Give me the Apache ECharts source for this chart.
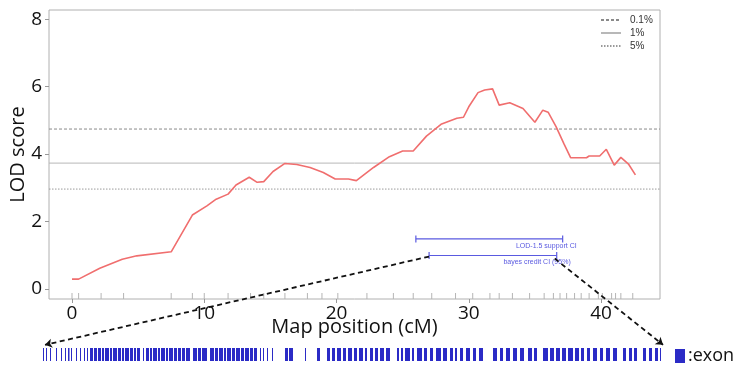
<!DOCTYPE html>
<html>
<head>
<meta charset="utf-8">
<script src="https://cdn.jsdelivr.net/npm/echarts@6/dist/echarts.min.js"></script>
<style>html,body{margin:0;padding:0;background:#fff}#c{width:738px;height:366px}</style>
</head>
<body>
<div id="c"></div>
<script>
// Map positions (cM) and LOD scores of the scan
const positionsCM = [0, 0.5, 2.1, 3.8, 4.9, 7.5, 9.1, 10.2, 10.9, 11.8, 12.4, 13.4, 14.0, 14.5, 15.2, 16.1, 17.0, 18.0, 19.0, 19.9, 20.9, 21.5, 22.8, 24.0, 25.0, 25.8, 26.8, 27.9, 29.1, 29.6, 30.0, 30.7, 31.2, 31.8, 32.3, 33.1, 34.1, 35.0, 35.6, 36.0, 36.6, 37.2, 37.7, 38.9, 39.1, 39.9, 40.4, 41.0, 41.5, 42.1, 42.6];
const lodScores = [0.29, 0.29, 0.61, 0.88, 0.98, 1.10, 2.19, 2.46, 2.66, 2.81, 3.08, 3.31, 3.16, 3.18, 3.48, 3.72, 3.69, 3.60, 3.45, 3.26, 3.26, 3.21, 3.60, 3.92, 4.09, 4.09, 4.53, 4.88, 5.06, 5.09, 5.40, 5.82, 5.90, 5.93, 5.45, 5.52, 5.35, 4.94, 5.30, 5.24, 4.81, 4.30, 3.89, 3.89, 3.94, 3.94, 4.14, 3.67, 3.90, 3.69, 3.38];
// Marker positions (rug)
const markerCM = [0, 0.5, 2.2, 3.9, 7.5, 9.1, 10.0, 11.8, 13.5, 14.5, 16.1, 17.8, 18.9, 20.1, 22.3, 24.3, 25.8, 27.2, 29.0, 30.3, 31.6, 32.3, 33.3, 34.6, 35.7, 36.4, 36.9, 37.4, 38.0, 38.5, 39.1, 39.8, 40.1, 40.8, 41.1, 41.5, 42.4];
// Significance thresholds
const thresholdNames = ['0.1%', '1%', '5%'];
const thresholdValues = [4.74, 3.73, 2.96];
// Confidence intervals [low, high, lod level]
const ciNames = ['LOD-1.5 support CI', 'bayes credit CI (95%)'];
const ciLow = [26.0, 27.0];
const ciHigh = [37.1, 36.65];
const ciLevel = [1.48, 0.99];
// Tick labels
const xTicks = [0, 10, 20, 30, 40];
const yTicks = [0, 2, 4, 6, 8];
// Exons along the gene (relative kb, 0..620)
const exonStart = [1,4,8,14,19,23,26,29,34,38,42,45,48,52,56,60,63,68,71,76,80,83,88,92,95,101,104,108,111,116,119,124,127,132,136,140,144,151,156,160,168,173,177,182,185,190,194,199,203,208,212,218,221,225,230,243,247,263,275,285,290,295,301,306,312,317,323,328,333,338,344,355,359,363,370,375,382,388,394,401,408,413,418,424,431,437,451,458,464,471,478,486,492,501,508,514,520,526,533,539,545,551,558,564,571,581,587,592,601,607,613,618];
const exonEnd   = [2,5,9,15,20,24,27.5,30,35,39,43,46,51,55,59,62,67,70,75,79,82,87,91,94,98,102,107,110,115,118,123,126,131,135,139,143,148,155,159,165,172,176,181,184,189,193,198,202,207,211,215,219,222,226,231,246,251,264,278,288,293,299,304,310,315,321,325,331,336,342,348,357,361,368,372,380,385,391,399,405,411,415,421,428,434,441,455,461,468,475,482,490,495,506,512,518,524,531,537,542,548,555,561,568,575,584,590,595,604,610,616,619];
// Arrow ends linking the credible interval to the gene track
const arrowFrom = [[27.0, 0.96], [36.5, 0.90]];
const arrowTo = [[-2.04, -1.66], [44.69, -1.66]];

const X_MIN = -1.74, X_MAX = 44.46, Y_MIN = -0.3, Y_MAX = 8.27;
const FONT = '"Open Sans", "Noto Sans", sans-serif';
const chart = echarts.init(document.getElementById('c'), null, {renderer: 'canvas'});

const thresholdStyles = [
  {type: [3, 2], color: '#8a8a8a'},
  {type: 'solid', color: '#b8b8b8'},
  {type: [1.5, 1.5], color: '#9a9a9a'}
];

const series = [];
thresholdNames.forEach((n, i) => {
  series.push({
    name: n, type: 'line', xAxisIndex: 0, yAxisIndex: 0, symbol: 'none', silent: true,
    data: [[X_MIN, thresholdValues[i]], [X_MAX, thresholdValues[i]]],
    lineStyle: {width: 1, type: thresholdStyles[i].type, color: thresholdStyles[i].color},
    itemStyle: {color: thresholdStyles[i].color},
    z: 1
  });
});
series.push({
  name: 'LOD', type: 'line', xAxisIndex: 0, yAxisIndex: 0, symbol: 'none',
  data: positionsCM.map((c, i) => [c, lodScores[i]]),
  lineStyle: {width: 1.6, color: '#f06e6e'}, z: 3
});
series.push({
  name: 'markers', type: 'custom', xAxisIndex: 0, yAxisIndex: 0,
  data: markerCM.map(m => [m]),
  renderItem: function (params, api) {
    const p = api.coord([api.value(0), Y_MIN]);
    return {type: 'line', shape: {x1: p[0], y1: p[1], x2: p[0], y2: p[1] - 6}, style: {stroke: '#b5b5b5', lineWidth: 1}};
  }, z: 2
});
series.push({
  name: 'CI', type: 'custom', xAxisIndex: 0, yAxisIndex: 0,
  data: ciNames.map((n, i) => [ciLow[i], ciHigh[i], ciLevel[i], n]),
  renderItem: function (params, api) {
    const a = api.coord([api.value(0), api.value(2)]);
    const b = api.coord([api.value(1), api.value(2)]);
    const col = '#5a5ae0';
    return {type: 'group', children: [
      {type: 'line', shape: {x1: a[0], y1: a[1], x2: b[0], y2: b[1]}, style: {stroke: col, lineWidth: 1.2}},
      {type: 'line', shape: {x1: a[0], y1: a[1] - 3.5, x2: a[0], y2: a[1] + 3.5}, style: {stroke: col, lineWidth: 1.2}},
      {type: 'line', shape: {x1: b[0], y1: b[1] - 3.5, x2: b[0], y2: b[1] + 3.5}, style: {stroke: col, lineWidth: 1.2}},
      {type: 'text', x: b[0] + 14, y: b[1] + 7, style: {text: api.value(3), fill: col, fontSize: 7, fontFamily: 'Liberation Sans, Arial', align: 'right', verticalAlign: 'middle'}}
    ]};
  }, z: 4
});
series.push({
  name: 'arrows', type: 'lines', coordinateSystem: 'cartesian2d', xAxisIndex: 0, yAxisIndex: 0,
  clip: false, silent: true,
  data: arrowFrom.map((f, i) => ({coords: [f, arrowTo[i]]})),
  symbol: ['none', 'arrow'], symbolSize: 7,
  lineStyle: {color: '#111', width: 1.8, type: [5, 3.5], opacity: 1, curveness: 0}, z: 5
});
series.push({
  name: 'exon', type: 'custom', xAxisIndex: 1, yAxisIndex: 1,
  data: exonStart.map((s, i) => [s, exonEnd[i]]),
  itemStyle: {color: '#2b2bc6'},
  renderItem: function (params, api) {
    const s = api.coord([api.value(0), 0]);
    const e = api.coord([api.value(1), 1]);
    return {type: 'rect', shape: {x: s[0], y: e[1], width: Math.max(e[0] - s[0], 1), height: s[1] - e[1]}, style: {fill: '#2b2bc6'}};
  }
});

chart.setOption({
  animation: false,
  grid: [
    {left: 49, top: 10, right: 78, bottom: 67, show: true, borderColor: '#b0b0b0', borderWidth: 1, containLabel: false, outerBoundsMode: 'none'},
    {left: 42, right: 76, top: 348, height: 13, show: false, outerBoundsMode: 'none'}
  ],
  xAxis: [
    {type: 'value', gridIndex: 0, min: X_MIN, max: X_MAX,
     name: 'Map position (cM)', nameLocation: 'middle', nameGap: 18, nameMoveOverlap: false,
     nameTextStyle: {fontSize: 20, fontFamily: FONT, color: '#111'},
     axisLine: {show: false, onZero: false},
     axisTick: {show: true, inside: false, length: 4, lineStyle: {color: '#999'}, customValues: xTicks},
     axisLabel: {fontSize: 19, fontFamily: FONT, color: '#111', margin: 5, customValues: xTicks},
     splitLine: {show: false}},
    {type: 'value', gridIndex: 1, min: 0, max: 620, show: false}
  ],
  yAxis: [
    {type: 'value', gridIndex: 0, min: Y_MIN, max: Y_MAX,
     name: 'LOD score', nameLocation: 'middle', nameGap: 21, nameRotate: 90, nameMoveOverlap: false,
     nameTextStyle: {fontSize: 20, fontFamily: FONT, color: '#111'},
     axisLine: {show: false, onZero: false},
     axisTick: {show: true, inside: false, length: 4, lineStyle: {color: '#999'}, customValues: yTicks},
     axisLabel: {fontSize: 19, fontFamily: FONT, color: '#111', margin: 7, customValues: yTicks},
     splitLine: {show: false}},
    {type: 'value', gridIndex: 1, min: 0, max: 1, show: false}
  ],
  legend: [
    {data: thresholdNames, orient: 'vertical', left: 600, top: 15, padding: 0, itemWidth: 20, itemHeight: 9, itemGap: 3,
     itemStyle: {opacity: 0},
     textStyle: {fontSize: 10, fontFamily: 'Liberation Sans, Arial', color: '#333', padding: [0, 0, 0, 4]}, selectedMode: false},
    {data: [{name: 'exon', icon: 'rect'}], left: 675, top: 347, padding: 0, itemWidth: 10, itemHeight: 14,
     formatter: ':exon', selectedMode: false,
     textStyle: {fontSize: 18, fontFamily: FONT, color: '#111', padding: [0, 0, 0, -2]}}
  ],
  series: series
});
</script>
</body>
</html>
